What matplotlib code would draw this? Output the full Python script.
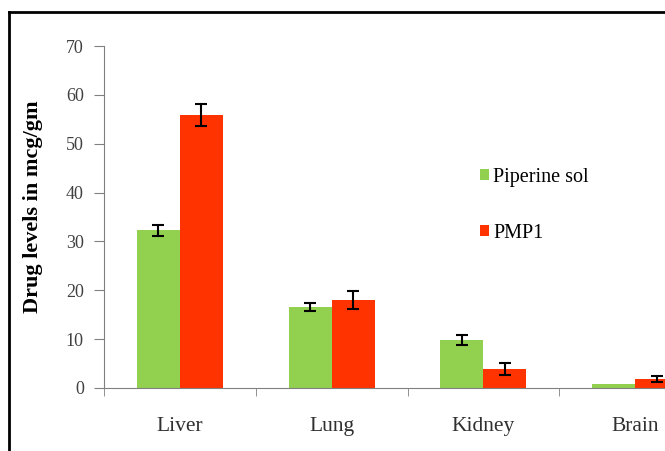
import numpy as np
import matplotlib.pyplot as plt
from matplotlib.lines import Line2D

plt.rcParams["font.family"] = ["Liberation Serif", "DejaVu Serif"]

organs = ["Liver", "Lung", "Kidney", "Brain"]
piperine_sol = [32.3, 16.6, 9.8, 0.8]
piperine_err = [1.1, 0.8, 1.1, np.nan]  # no error bar visible for brain
pmp1 = [55.9, 18.0, 3.9, 1.8]
pmp1_err = [2.2, 1.8, 1.2, 0.6]

fig = plt.figure(figsize=(6.65, 4.51), dpi=100)
ax = fig.add_axes([104/665, 63/451, 607/665, 342/451])

x = np.arange(len(organs))
w = 0.283
ax.bar(x - w/2, piperine_sol, w, color="#92D050", label="Piperine sol",
       yerr=piperine_err, error_kw=dict(ecolor="black", elinewidth=1.5, capsize=4, capthick=1.5))
ax.bar(x + w/2, pmp1, w, color="#FF3300", label="PMP1",
       yerr=pmp1_err, error_kw=dict(ecolor="black", elinewidth=1.5, capsize=4, capthick=1.5))

ax.set_xlim(-0.5, 3.5)
ax.set_ylim(0, 70)
ax.set_yticks(range(0, 71, 10))
ax.set_xticks(x)
ax.set_xticklabels(organs, fontsize=15.5)
ax.set_xticks(np.arange(-0.5, 3.6, 1), minor=True)
ax.tick_params(axis="x", which="major", length=0, pad=21)
ax.tick_params(axis="x", which="minor", length=6, color="#808080", direction="out")
ax.tick_params(axis="y", length=7, color="#808080", labelsize=13, pad=7.5, labelcolor="#404040")
ax.tick_params(axis="x", labelcolor="#303030")
for s in ["top", "right"]:
    ax.spines[s].set_visible(False)
for s in ["left", "bottom"]:
    ax.spines[s].set_color("#808080")

ax.set_ylabel("Drug levels in mcg/gm", fontsize=16, fontweight="bold")
ax.yaxis.set_label_coords(-0.1, 0.529)

ax.legend(loc="center left", bbox_to_anchor=(0.603, 0.534), frameon=False, fontsize=14.5,
          borderpad=0, handlelength=0.45, handleheight=0.45, handletextpad=0.2,
          labelspacing=1.85)

# border frame
fig.add_artist(Line2D([9/665, 9/665], [0, 1 - 12/451], color="black", lw=2, transform=fig.transFigure))
fig.add_artist(Line2D([9/665, 1], [1 - 12/451, 1 - 12/451], color="black", lw=2, transform=fig.transFigure))

fig.savefig("out.png", dpi=100)
